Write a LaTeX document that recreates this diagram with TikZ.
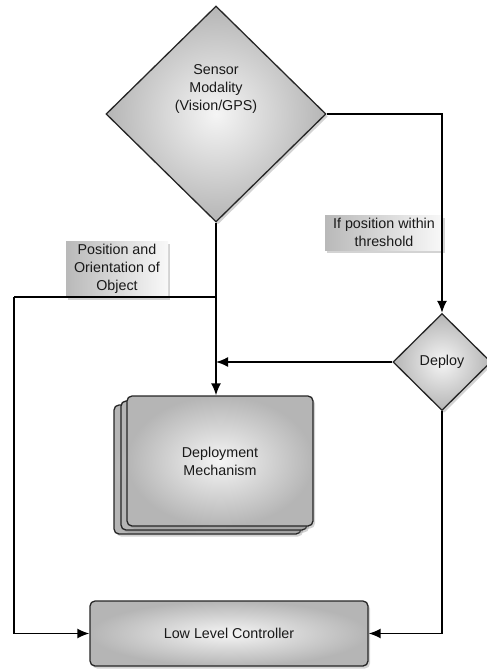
\documentclass[tikz,border=0pt]{standalone}
\usepackage{fontspec}
\setmainfont{Liberation Sans}
\usetikzlibrary{shapes.geometric,shadows,arrows.meta}
\begin{document}
\begin{tikzpicture}[x=1pt,y=-1pt,
  every node/.style={font=\fontsize{14.3}{18}\selectfont, text=black!90, align=center},
  shade/.style={shading=radial, inner color=gray!8, outer color=gray!58},
  dshadow/.style={drop shadow={shadow xshift=2pt,shadow yshift=-2.5pt,opacity=0.35}},
  decision/.style={diamond, draw=black!85, line width=1.3pt, shade, dshadow, inner sep=0pt},
  procbox/.style={rectangle, rounded corners=5pt, draw=black!85, line width=1.3pt, shade, dshadow, inner sep=0pt},
  labelbox/.style={rectangle, left color=gray!55, right color=gray!5, dshadow, inner sep=0pt},
  conn/.style={line width=1.7pt, black},
  arr/.style={conn, -{Latex[length=12pt,width=10pt]}}
]
\useasboundingbox (0,0) rectangle (487,669);

% nodes
\node[decision, minimum width=220, minimum height=216, text depth=52pt] (sensor) at (216,114) {Sensor\\Modality\\(Vision/GPS)};
\node[decision, minimum width=98, minimum height=97] (deploy) at (442,362) {Deploy};

\node[procbox, minimum width=187, minimum height=129] (dm2) at (207.5,469.5) {};
\node[procbox, minimum width=186, minimum height=129] (dm1) at (214,465.5) {};
\node[procbox, minimum width=186, minimum height=130] (dm) at (220,461) {Deployment\\Mechanism};

\node[procbox, minimum width=278, minimum height=65] (llc) at (229,633.5) {Low Level Controller};

\node[labelbox, minimum width=102, minimum height=56] (poslab) at (117,269) {Position and\\Orientation of\\Object};
\node[labelbox, minimum width=118, minimum height=35] (iflab) at (384,232.5) {If position within\\threshold};

% connectors
\coordinate (j1) at (216,297);
\coordinate (lcorner) at (14,297);
\draw[arr] (sensor.east) -| (deploy.north);
\draw[arr] (sensor.south) -- (sensor.south |- dm.north);
\draw[arr] (deploy.west) -- (sensor.south |- deploy.west);
\draw[conn] (j1) -- (lcorner);
\draw[arr] (lcorner) |- (llc.west);
\draw[arr] (deploy.south) |- (llc.east);
\end{tikzpicture}
\end{document}
